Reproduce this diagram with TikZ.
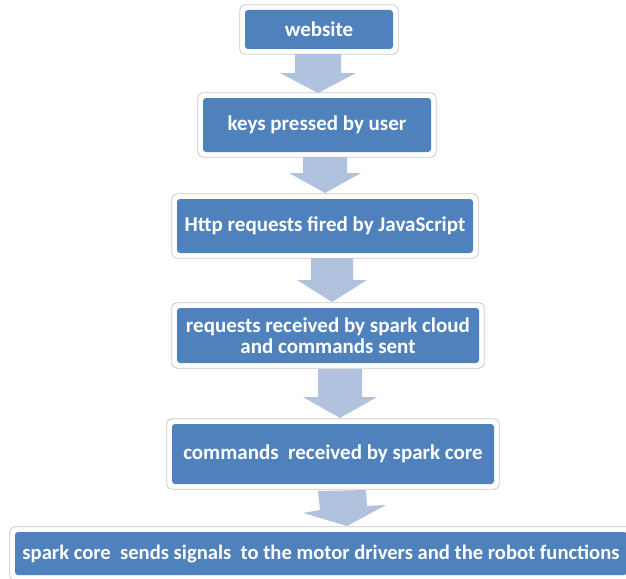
\documentclass[tikz,border=0pt]{standalone}
\usepackage{fontspec}
\setmainfont{Carlito}
\usetikzlibrary{calc,backgrounds}
\definecolor{boxblue}{HTML}{4F81BD}
\definecolor{arrowblue}{HTML}{B0C2DE}
\definecolor{framegray}{HTML}{C8C8C8}
\tikzset{
  blk/.style={fill=boxblue, rounded corners=3pt, text=white, align=center,
    font=\bfseries\fontsize{21}{21}\selectfont, inner sep=0pt},
  frm/.style={draw=framegray, fill=white, rounded corners=5pt, line width=0.8pt},
  arr/.style={fill=arrowblue}
}
\newcommand\blockarrow[6]{% cx, top, headtop, tip, shaft half, head half
  \fill[arr] (#1-#5,#2) -- (#1+#5,#2) -- (#1+#5,#3) -- (#1+#6,#3) -- (#1,#4)
    -- (#1-#6,#3) -- (#1-#5,#3) -- cycle;}
\begin{document}
\begin{tikzpicture}[x=1pt,y=-1pt]
\useasboundingbox (0,0) rectangle (626,578);
\clip (0,0) rectangle (626,578);
\node[blk, minimum width=148pt, minimum height=39pt] (b1) at (319,29.5) {website};
\node[blk, minimum width=228pt, minimum height=54pt] (b2) at (317,125) {keys pressed by user};
\node[blk, minimum width=296pt, minimum height=54pt] (b3) at (325,226) {Http requests fired by JavaScript};
\node[blk, minimum width=302pt, minimum height=55pt] (b4) at (328,335.5) {requests received by spark cloud\\and commands sent};
\node[blk, minimum width=322pt, minimum height=60pt] (b5) at (333,454) {commands\ \ received by spark core};
\node[blk, minimum width=612pt, minimum height=43pt, font=\bfseries\fontsize{20.6}{21}\selectfont] (b6) at (321,553.5) {spark core\ \ sends signals\ \ to the motor drivers and the robot functions};
\begin{scope}[on background layer]
  \foreach \n in {b1,b2,b3,b4,b5,b6}
    \draw[frm] ([shift={(-5,-5)}]\n.north west) rectangle ([shift={(5,5)}]\n.south east);
  \blockarrow{318}{54}{73}{93}{23}{38}
  \blockarrow{325}{157}{173}{193}{22}{36}
  \blockarrow{332}{258}{280}{302}{21}{35}
  \blockarrow{340}{369}{397}{418}{22}{37}
  \fill[arr] (318,491) -- (366,490) -- (367,506) -- (386,505) -- (347,526)
    -- (303,513) -- (320,510) -- cycle;
\end{scope}
\end{tikzpicture}
\end{document}
